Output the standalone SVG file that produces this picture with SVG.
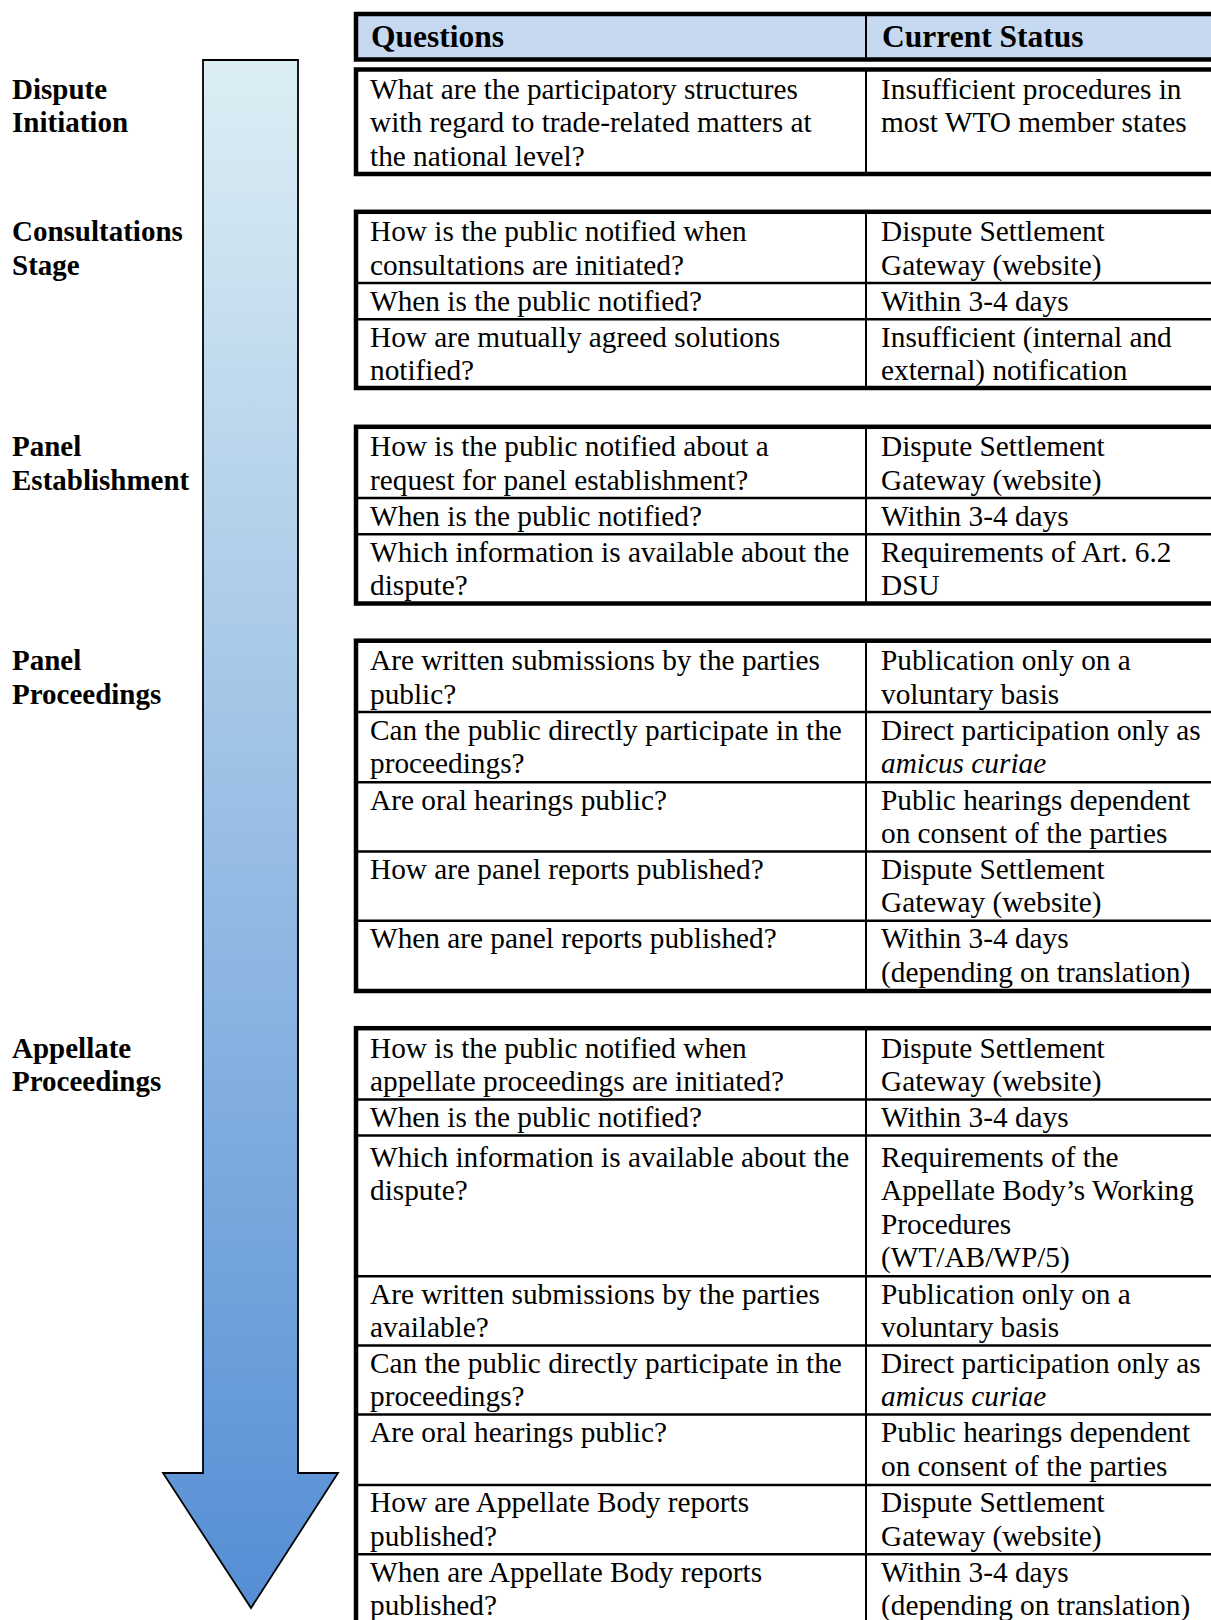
<svg xmlns="http://www.w3.org/2000/svg" width="1211" height="1620" viewBox="0 0 1211 1620">
<defs>
<linearGradient id="arrowGrad" x1="0" y1="0" x2="0" y2="1">
<stop offset="0" stop-color="#DCEEF4"/>
<stop offset="1" stop-color="#558ED5"/>
</linearGradient>
<style>
text{font-family:"Liberation Serif","Times New Roman",serif;fill:#000}
.t{font-size:29.3px}
.h{font-size:31.5px;font-weight:bold}
.lbl{font-size:29px;font-weight:bold}
.it{font-style:italic}
.outer{fill:#fff;stroke:#000;stroke-width:4.5}
.hdr{fill:#C6D9F1;stroke:#000;stroke-width:4.5}
.div{stroke:#000;stroke-width:2.5}
.col{stroke:#000;stroke-width:2}
.arrow{fill:url(#arrowGrad);stroke:#000;stroke-width:1.8;stroke-linejoin:miter}
</style>
</defs>
<rect width="1211" height="1620" fill="#fff"/>

<g id="connectors">
<path id="flow-arrow" class="arrow" d="M203,60 L298,60 L298,1473 L338,1473 L251,1608 L163,1473 L203,1473 Z"/>
</g>

<g id="stage-labels">
<g id="label-dispute-initiation"><text class="lbl"><tspan x="12" y="99">Dispute</tspan><tspan x="12" y="132.4">Initiation</tspan></text></g>
<g id="label-consultations"><text class="lbl"><tspan x="12" y="241.3">Consultations</tspan><tspan x="12" y="274.7">Stage</tspan></text></g>
<g id="label-panel-establishment"><text class="lbl"><tspan x="12" y="456.3">Panel</tspan><tspan x="12" y="489.7">Establishment</tspan></text></g>
<g id="label-panel-proceedings"><text class="lbl"><tspan x="12" y="670.2">Panel</tspan><tspan x="12" y="703.6">Proceedings</tspan></text></g>
<g id="label-appellate-proceedings"><text class="lbl"><tspan x="12" y="1057.7">Appellate</tspan><tspan x="12" y="1091.1">Proceedings</tspan></text></g>
</g>

<g id="header">
<rect class="hdr" x="356" y="14" width="900" height="45.5"/>
<line class="col" x1="866" y1="14" x2="866" y2="59.5"/>
<text class="h" x="371" y="47">Questions</text>
<text class="h" x="882" y="47">Current Status</text>
</g>

<g id="table-dispute-initiation">
<rect class="outer" x="356" y="69.5" width="900" height="104.5"/>
<line class="col" x1="866" y1="69.5" x2="866" y2="174"/>
<text class="t"><tspan x="370" y="99">What are the participatory structures</tspan><tspan x="370" y="132.4">with regard to trade-related matters at</tspan><tspan x="370" y="165.8">the national level?</tspan></text>
<text class="t"><tspan x="881" y="99">Insufficient procedures in</tspan><tspan x="881" y="132.4">most WTO member states</tspan></text>
</g>

<g id="table-consultations">
<rect class="outer" x="356" y="211.8" width="900" height="176.2"/>
<line class="div" x1="356" y1="283.1" x2="1256" y2="283.1"/>
<line class="div" x1="356" y1="319.3" x2="1256" y2="319.3"/>
<line class="col" x1="866" y1="211.8" x2="866" y2="388"/>
<text class="t"><tspan x="370" y="241.3">How is the public notified when</tspan><tspan x="370" y="274.7">consultations are initiated?</tspan></text>
<text class="t"><tspan x="881" y="241.3">Dispute Settlement</tspan><tspan x="881" y="274.7">Gateway (website)</tspan></text>
<text class="t" x="370" y="310.8">When is the public notified?</text>
<text class="t" x="881" y="310.8">Within 3-4 days</text>
<text class="t"><tspan x="370" y="346.8">How are mutually agreed solutions</tspan><tspan x="370" y="380.2">notified?</tspan></text>
<text class="t"><tspan x="881" y="346.8">Insufficient (internal and</tspan><tspan x="881" y="380.2">external) notification</tspan></text>
</g>

<g id="table-panel-establishment">
<rect class="outer" x="356" y="426.8" width="900" height="176.7"/>
<line class="div" x1="356" y1="498" x2="1256" y2="498"/>
<line class="div" x1="356" y1="534.2" x2="1256" y2="534.2"/>
<line class="col" x1="866" y1="426.8" x2="866" y2="603.5"/>
<text class="t"><tspan x="370" y="456.3">How is the public notified about a</tspan><tspan x="370" y="489.7">request for panel establishment?</tspan></text>
<text class="t"><tspan x="881" y="456.3">Dispute Settlement</tspan><tspan x="881" y="489.7">Gateway (website)</tspan></text>
<text class="t" x="370" y="525.5">When is the public notified?</text>
<text class="t" x="881" y="525.5">Within 3-4 days</text>
<text class="t"><tspan x="370" y="561.7">Which information is available about the</tspan><tspan x="370" y="595.1">dispute?</tspan></text>
<text class="t"><tspan x="881" y="561.7">Requirements of Art. 6.2</tspan><tspan x="881" y="595.1">DSU</tspan></text>
</g>

<g id="table-panel-proceedings">
<rect class="outer" x="356" y="640.7" width="900" height="350.3"/>
<line class="div" x1="356" y1="712" x2="1256" y2="712"/>
<line class="div" x1="356" y1="782.2" x2="1256" y2="782.2"/>
<line class="div" x1="356" y1="851.5" x2="1256" y2="851.5"/>
<line class="div" x1="356" y1="920.7" x2="1256" y2="920.7"/>
<line class="col" x1="866" y1="640.7" x2="866" y2="991"/>
<text class="t"><tspan x="370" y="670.2">Are written submissions by the parties</tspan><tspan x="370" y="703.6">public?</tspan></text>
<text class="t"><tspan x="881" y="670.2">Publication only on a</tspan><tspan x="881" y="703.6">voluntary basis</tspan></text>
<text class="t"><tspan x="370" y="739.5">Can the public directly participate in the</tspan><tspan x="370" y="772.9">proceedings?</tspan></text>
<text class="t"><tspan x="881" y="739.5">Direct participation only as</tspan><tspan class="it" x="881" y="772.9">amicus curiae</tspan></text>
<text class="t" x="370" y="809.7">Are oral hearings public?</text>
<text class="t"><tspan x="881" y="809.7">Public hearings dependent</tspan><tspan x="881" y="843.1">on consent of the parties</tspan></text>
<text class="t" x="370" y="879">How are panel reports published?</text>
<text class="t"><tspan x="881" y="879">Dispute Settlement</tspan><tspan x="881" y="912.4">Gateway (website)</tspan></text>
<text class="t" x="370" y="948.2">When are panel reports published?</text>
<text class="t"><tspan x="881" y="948.2">Within 3-4 days</tspan><tspan x="881" y="981.6">(depending on translation)</tspan></text>
</g>

<g id="table-appellate-proceedings">
<rect class="outer" x="356" y="1028.2" width="900" height="640"/>
<line class="div" x1="356" y1="1099.5" x2="1256" y2="1099.5"/>
<line class="div" x1="356" y1="1135.6" x2="1256" y2="1135.6"/>
<line class="div" x1="356" y1="1276.2" x2="1256" y2="1276.2"/>
<line class="div" x1="356" y1="1345.4" x2="1256" y2="1345.4"/>
<line class="div" x1="356" y1="1414.6" x2="1256" y2="1414.6"/>
<line class="div" x1="356" y1="1484.9" x2="1256" y2="1484.9"/>
<line class="div" x1="356" y1="1554.2" x2="1256" y2="1554.2"/>
<line class="col" x1="866" y1="1028.2" x2="866" y2="1668"/>
<text class="t"><tspan x="370" y="1057.7">How is the public notified when</tspan><tspan x="370" y="1091.1">appellate proceedings are initiated?</tspan></text>
<text class="t"><tspan x="881" y="1057.7">Dispute Settlement</tspan><tspan x="881" y="1091.1">Gateway (website)</tspan></text>
<text class="t" x="370" y="1127">When is the public notified?</text>
<text class="t" x="881" y="1127">Within 3-4 days</text>
<text class="t"><tspan x="370" y="1167">Which information is available about the</tspan><tspan x="370" y="1200.4">dispute?</tspan></text>
<text class="t"><tspan x="881" y="1167">Requirements of the</tspan><tspan x="881" y="1200.4">Appellate Body’s Working</tspan><tspan x="881" y="1233.8">Procedures</tspan><tspan x="881" y="1267.2">(WT/AB/WP/5)</tspan></text>
<text class="t"><tspan x="370" y="1303.7">Are written submissions by the parties</tspan><tspan x="370" y="1337.1">available?</tspan></text>
<text class="t"><tspan x="881" y="1303.7">Publication only on a</tspan><tspan x="881" y="1337.1">voluntary basis</tspan></text>
<text class="t"><tspan x="370" y="1372.9">Can the public directly participate in the</tspan><tspan x="370" y="1406.3">proceedings?</tspan></text>
<text class="t"><tspan x="881" y="1372.9">Direct participation only as</tspan><tspan class="it" x="881" y="1406.3">amicus curiae</tspan></text>
<text class="t" x="370" y="1442.1">Are oral hearings public?</text>
<text class="t"><tspan x="881" y="1442.1">Public hearings dependent</tspan><tspan x="881" y="1475.5">on consent of the parties</tspan></text>
<text class="t"><tspan x="370" y="1512.4">How are Appellate Body reports</tspan><tspan x="370" y="1545.8">published?</tspan></text>
<text class="t"><tspan x="881" y="1512.4">Dispute Settlement</tspan><tspan x="881" y="1545.8">Gateway (website)</tspan></text>
<text class="t"><tspan x="370" y="1581.7">When are Appellate Body reports</tspan><tspan x="370" y="1615.1">published?</tspan></text>
<text class="t"><tspan x="881" y="1581.7">Within 3-4 days</tspan><tspan x="881" y="1615.1">(depending on translation)</tspan></text>
</g>
</svg>
